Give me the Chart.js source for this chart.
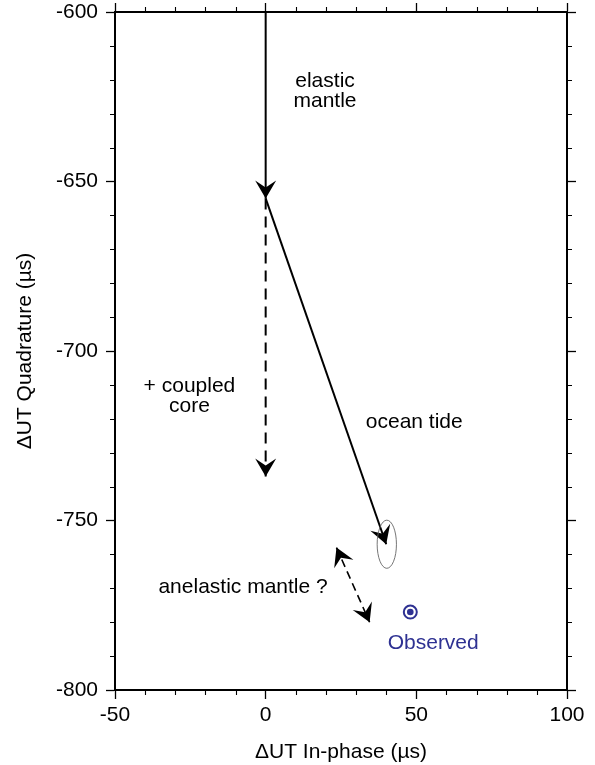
<!DOCTYPE html>
<html>
<head>
<meta charset="utf-8">
<script src="https://cdn.jsdelivr.net/npm/chart.js@4/dist/chart.umd.min.js"></script>
<style>
  html, body { margin: 0; padding: 0; background: #fff; }
</style>
</head>
<body>
<canvas id="graficoUT" width="595" height="765"></canvas>
<script>
// ticks de los ejes
const xTicks = [-50, 0, 50, 100];
const yTicks = [-600, -650, -700, -750, -800];

// vectores (in-phase, quadrature) en microsegundos
const elasticX = [0, 0];
const elasticY = [-600, -655];
const oceanX = [0, 40];
const oceanY = [-655, -757];
const coreX = [0, 0];
const coreY = [-655, -737];
const anelasticX = [23.5, 34.5];
const anelasticY = [-758, -780];

// valor observado y elipse de error del modelo
const observedX = [48];
const observedY = [-777];
const ellipseCenter = [40.2, -757];
const ellipseSemi = [3.2, 7.1];

// textos
const notes = [
  { lines: ['elastic', 'mantle'], x: 19.7, y: -623.5, color: '#000' },
  { lines: ['+ coupled', 'core'], x: -25.3, y: -713.2, color: '#000' },
  { lines: ['ocean tide'], x: 49.3, y: -721, color: '#000' },
  { lines: ['anelastic mantle ?'], x: -7.5, y: -769.6, color: '#000' },
  { lines: ['Observed'], x: 55.6, y: -786.1, color: '#2e3192' }
];

const FONT = '"Liberation Sans", Arial, Helvetica, sans-serif';
const BLUE = '#2e3192';

const pts = (xs, ys) => xs.map((x, i) => ({ x: x, y: ys[i] }));

// ticks menores cada 10 unidades, hacia afuera
const minorTicks = {
  id: 'minorTicks',
  afterDraw(chart) {
    const ctx = chart.ctx;
    const a = chart.chartArea;
    ctx.save();
    ctx.strokeStyle = '#000';
    ctx.lineWidth = 1.1;
    ctx.beginPath();
    const sx = chart.scales.x, sy = chart.scales.y;
    for (let v = sx.min; v <= sx.max; v += 10) {
      if (v % 50 === 0) continue;
      const p = Math.round(sx.getPixelForValue(v)) + 0.5;
      ctx.moveTo(p, a.bottom); ctx.lineTo(p, a.bottom + 5);
      ctx.moveTo(p, a.top); ctx.lineTo(p, a.top - 5);
    }
    for (let v = sy.min; v <= sy.max; v += 10) {
      if (v % 50 === 0) continue;
      const p = Math.round(sy.getPixelForValue(v)) + 0.5;
      ctx.moveTo(a.left, p); ctx.lineTo(a.left - 5, p);
      ctx.moveTo(a.right, p); ctx.lineTo(a.right + 5, p);
    }
    ctx.stroke();
    ctx.restore();
  }
};

// puntas de flecha tipo GMT
function head(ctx, tip, from) {
  const ang = Math.atan2(tip.y - from.y, tip.x - from.x);
  ctx.save();
  ctx.translate(tip.x, tip.y);
  ctx.rotate(ang);
  ctx.beginPath();
  ctx.moveTo(0, 0);
  ctx.lineTo(-18, -10.5);
  ctx.lineTo(-11, 0);
  ctx.lineTo(-18, 10.5);
  ctx.closePath();
  ctx.fillStyle = '#000';
  ctx.fill();
  ctx.restore();
}

const arrows = {
  id: 'arrows',
  afterDatasetsDraw(chart) {
    const ctx = chart.ctx;
    chart.data.datasets.forEach((ds, i) => {
      if (!ds.arrow) return;
      const el = chart.getDatasetMeta(i).data;
      const n = el.length;
      head(ctx, el[n - 1], el[n - 2]);
      if (ds.arrow === 'both') head(ctx, el[0], el[1]);
    });

    // elipse
    const sx = chart.scales.x, sy = chart.scales.y;
    const cx = sx.getPixelForValue(ellipseCenter[0]);
    const cy = sy.getPixelForValue(ellipseCenter[1]);
    const rx = Math.abs(sx.getPixelForValue(ellipseCenter[0] + ellipseSemi[0]) - cx);
    const ry = Math.abs(sy.getPixelForValue(ellipseCenter[1] + ellipseSemi[1]) - cy);
    ctx.save();
    ctx.beginPath();
    ctx.ellipse(cx, cy, rx, ry, 0, 0, Math.PI * 2);
    ctx.strokeStyle = '#666';
    ctx.lineWidth = 0.9;
    ctx.stroke();
    ctx.restore();

    // textos
    ctx.save();
    ctx.font = '21px ' + FONT;
    ctx.textAlign = 'center';
    ctx.textBaseline = 'middle';
    notes.forEach(nt => {
      const px = sx.getPixelForValue(nt.x);
      const py = sy.getPixelForValue(nt.y);
      const off = (nt.lines.length - 1) * 10;
      ctx.fillStyle = nt.color;
      nt.lines.forEach((t, k) => ctx.fillText(t, px, py - off + k * 20));
    });
    ctx.restore();
  }
};

Chart.defaults.color = '#000';
Chart.defaults.font.family = FONT;
Chart.defaults.font.size = 21;

const gridOpts = { drawOnChartArea: false, drawTicks: true, tickLength: 9, tickColor: '#000', tickWidth: 1.3 };
const borderOpts = { display: true, color: '#000', width: 2 };

new Chart(document.getElementById('graficoUT').getContext('2d'), {
  type: 'scatter',
  data: {
    datasets: [
      { data: pts(elasticX, elasticY), showLine: true, borderColor: '#000', borderWidth: 2, pointRadius: 0, arrow: 'end' },
      { data: pts(oceanX, oceanY), showLine: true, borderColor: '#000', borderWidth: 2, pointRadius: 0, arrow: 'end' },
      { data: pts(coreX, coreY), showLine: true, borderColor: '#000', borderWidth: 2, borderDash: [11, 7], pointRadius: 0, arrow: 'end' },
      { data: pts(anelasticX, anelasticY), showLine: true, borderColor: '#000', borderWidth: 1.6, borderDash: [8, 5], pointRadius: 0, arrow: 'both' },
      { data: pts(observedX, observedY), pointStyle: 'circle', pointRadius: 3.3, pointBorderWidth: 0, borderColor: BLUE, backgroundColor: BLUE },
      { data: pts(observedX, observedY), pointStyle: 'circle', pointRadius: 6.5, pointBorderWidth: 2, borderColor: BLUE, backgroundColor: 'rgba(0,0,0,0)' }
    ]
  },
  options: {
    responsive: false,
    animation: false,
    events: [],
    layout: { padding: 0 },
    plugins: { legend: { display: false }, tooltip: { enabled: false } },
    scales: {
      x: {
        type: 'linear', position: 'bottom', min: -50, max: 100,
        afterBuildTicks: s => { s.ticks = xTicks.map(v => ({ value: v })); },
        ticks: { padding: 4, maxRotation: 0, autoSkip: false },
        grid: gridOpts, border: borderOpts,
        title: { display: true, text: 'ΔUT In-phase (µs)', padding: { top: 0, bottom: 0 } },
        afterFit: s => { s.height = 75; s.paddingLeft = 0; s.paddingRight = 0; }
      },
      xt: {
        type: 'linear', position: 'top', min: -50, max: 100,
        afterBuildTicks: s => { s.ticks = xTicks.map(v => ({ value: v })); },
        ticks: { callback: () => '' },
        grid: gridOpts, border: borderOpts,
        afterFit: s => { s.height = 12; s.paddingLeft = 0; s.paddingRight = 0; }
      },
      y: {
        type: 'linear', position: 'left', min: -800, max: -600,
        afterBuildTicks: s => { s.ticks = yTicks.map(v => ({ value: v })); },
        ticks: { padding: 8, autoSkip: false },
        grid: gridOpts, border: borderOpts,
        title: { display: true, text: 'ΔUT Quadrature (µs)', padding: { top: 13, bottom: 0 } },
        afterFit: s => { s.width = 115; s.paddingTop = 0; s.paddingBottom = 0; }
      },
      yr: {
        type: 'linear', position: 'right', min: -800, max: -600,
        afterBuildTicks: s => { s.ticks = yTicks.map(v => ({ value: v })); },
        ticks: { callback: () => '' },
        grid: gridOpts, border: borderOpts,
        afterFit: s => { s.width = 28; s.paddingTop = 0; s.paddingBottom = 0; }
      }
    }
  },
  plugins: [minorTicks, arrows]
});
</script>
</body>
</html>
